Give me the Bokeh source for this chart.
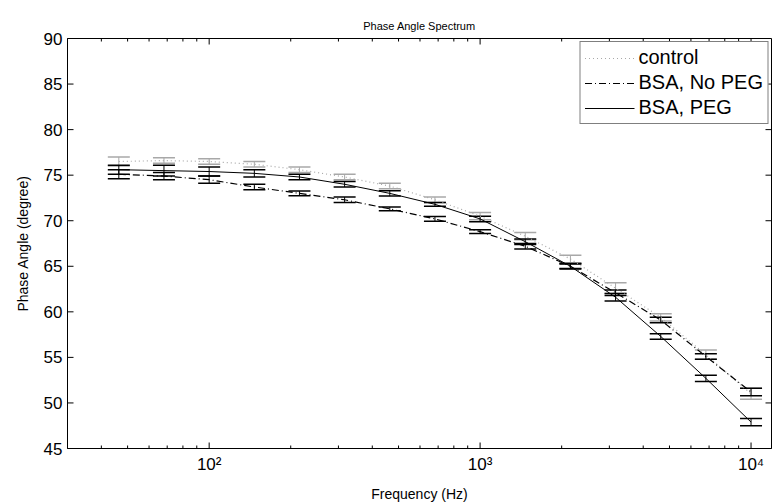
import math
from bokeh.plotting import figure
from bokeh.models import (ColumnDataSource, Whisker, TeeHead, Range1d,
                          Legend, LegendItem, FixedTicker)
from bokeh.embed import file_html
from bokeh.resources import INLINE

freq = [46.4, 68.1, 100, 146.8, 215.4, 316.2, 464.2, 681.3, 1000, 1467.8, 2154.4, 3162.3, 4641.6, 6812.9, 10000]
control = [76.5, 76.6, 76.5, 76.2, 75.6, 74.8, 73.8, 72.3, 70.5, 68.3, 65.8, 62.6, 59.4, 55.3, 51.0]
control_err = [0.5, 0.3, 0.3, 0.3, 0.3, 0.3, 0.3, 0.3, 0.4, 0.4, 0.4, 0.6, 0.4, 0.5, 0.6]
no_peg = [75.1, 74.9, 74.5, 73.7, 73.0, 72.3, 71.3, 70.2, 68.8, 67.2, 65.0, 62.1, 59.1, 55.1, 51.2]
no_peg_err = [0.5, 0.4, 0.4, 0.3, 0.25, 0.3, 0.2, 0.25, 0.2, 0.3, 0.25, 0.3, 0.3, 0.3, 0.4]
peg = [75.6, 75.5, 75.4, 75.2, 74.8, 74.0, 73.0, 71.8, 70.2, 67.7, 65.0, 61.6, 57.3, 52.7, 47.9]
peg_err = [0.5, 0.6, 0.5, 0.4, 0.3, 0.3, 0.3, 0.2, 0.3, 0.3, 0.3, 0.4, 0.3, 0.35, 0.4]

series_names = ["control", "BSA, No PEG", "BSA, PEG"]
y_ticks = [45, 50, 55, 60, 65, 70, 75, 80, 85, 90]
x_ticks = [100, 1000, 10000]
x_minor_ticks = [m * 10 ** k for k in range(1, 5) for m in range(2, 10)]
x_tick_labels = {100: "10²", 1000: "10³", 10000: "10⁴"}
x_lo, x_hi = 30, 11900
y_lo, y_hi = 45, 90

FONT = "Liberation Sans"
W, H = 772, 504
BL, BR, BT, BB = 67, 1, 38, 56

p = figure(width=W, height=H, x_axis_type="log", output_backend="svg",
           toolbar_location=None, x_range=Range1d(x_lo, x_hi), y_range=Range1d(y_lo, y_hi),
           min_border_left=BL, min_border_right=BR, min_border_top=BT, min_border_bottom=BB,
           x_axis_label="Frequency (Hz)", y_axis_label="Phase Angle (degree)")
p.title.text = "Phase Angle Spectrum"
p.title.align = "center"
p.title.text_font = FONT
p.title.text_font_size = "11px"
p.title.text_font_style = "normal"
p.title.text_color = "black"
p.title.standoff = 14
p.grid.visible = False
p.outline_line_color = "black"
p.outline_line_width = 1
p.background_fill_color = "white"
p.border_fill_color = "white"

# inward tick marks on all four sides; tick lengths converted from pixels to data units
frame_w = W - BL - BR
frame_h = H - BT - BB
px_per_unit_y = frame_h / (y_hi - y_lo)
px_per_decade = frame_w / (math.log10(x_hi) - math.log10(x_lo))
maj_y = 6 / px_per_unit_y
min_y = 3 / px_per_unit_y
maj_x = 10 ** (6 / px_per_decade)
vis_minor = [t for t in x_minor_ticks if x_lo < t < x_hi]
tick_kw = dict(line_color="black", line_width=1)
p.segment(x0=x_ticks, x1=x_ticks, y0=[y_lo] * 3, y1=[y_lo + maj_y] * 3, **tick_kw)
p.segment(x0=x_ticks, x1=x_ticks, y0=[y_hi] * 3, y1=[y_hi - maj_y] * 3, **tick_kw)
n = len(vis_minor)
p.segment(x0=vis_minor, x1=vis_minor, y0=[y_lo] * n, y1=[y_lo + min_y] * n, **tick_kw)
p.segment(x0=vis_minor, x1=vis_minor, y0=[y_hi] * n, y1=[y_hi - min_y] * n, **tick_kw)
m = len(y_ticks)
p.segment(x0=[x_lo] * m, x1=[x_lo * maj_x] * m, y0=y_ticks, y1=y_ticks, **tick_kw)
p.segment(x0=[x_hi] * m, x1=[x_hi / maj_x] * m, y0=y_ticks, y1=y_ticks, **tick_kw)

styles = [
    dict(color="#a8a8a8", dash="1 3", width=1.2),
    dict(color="black", dash="7 3 1 3", width=1.2),
    dict(color="black", dash="solid", width=1.0),
]
data = [(control, control_err), (no_peg, no_peg_err), (peg, peg_err)]

renderers = []
for (vals, errs), st in zip(data, styles):
    src = ColumnDataSource(dict(x=freq, y=vals,
                                lo=[v - e for v, e in zip(vals, errs)],
                                hi=[v + e for v, e in zip(vals, errs)]))
    r = p.line("x", "y", source=src, line_color=st["color"], line_dash=st["dash"],
               line_width=st["width"])
    renderers.append(r)
    w = Whisker(source=src, base="x", upper="hi", lower="lo", dimension="height",
                line_color=st["color"], line_width=1,
                upper_head=TeeHead(size=22, line_color=st["color"], line_width=1.5),
                lower_head=TeeHead(size=22, line_color=st["color"], line_width=1.5))
    p.add_layout(w)

def style_axis(ax):
    ax.axis_line_color = "black"
    ax.major_tick_line_color = None
    ax.minor_tick_line_color = None
    ax.major_tick_in = 0
    ax.major_tick_out = 0
    ax.minor_tick_in = 0
    ax.minor_tick_out = 0
    ax.major_label_text_font = FONT
    ax.major_label_text_font_size = "17px"
    ax.major_label_text_color = "black"
    ax.axis_label_text_font = FONT
    ax.axis_label_text_font_size = "14px"
    ax.axis_label_text_font_style = "normal"
    ax.axis_label_text_color = "black"

xa = p.xaxis[0]
xa.ticker = FixedTicker(ticks=x_ticks)
xa.major_label_overrides = x_tick_labels
style_axis(xa)
xa.major_label_standoff = 6
xa.axis_label_standoff = 9

ya = p.yaxis[0]
ya.ticker = FixedTicker(ticks=y_ticks)
style_axis(ya)
ya.major_label_standoff = 5
ya.axis_label_standoff = 10

legend = Legend(items=[LegendItem(label=n, renderers=[r]) for n, r in zip(series_names, renderers)],
                location="top_right", border_line_color="black", border_line_width=1,
                background_fill_color="white", background_fill_alpha=1,
                label_text_font=FONT, label_text_font_size="20px", label_text_color="black",
                glyph_width=50, glyph_height=20, label_height=20, spacing=2,
                padding=4, margin=3, label_standoff=4)
p.add_layout(legend)

open("out.html", "w").write(file_html(p, INLINE))
